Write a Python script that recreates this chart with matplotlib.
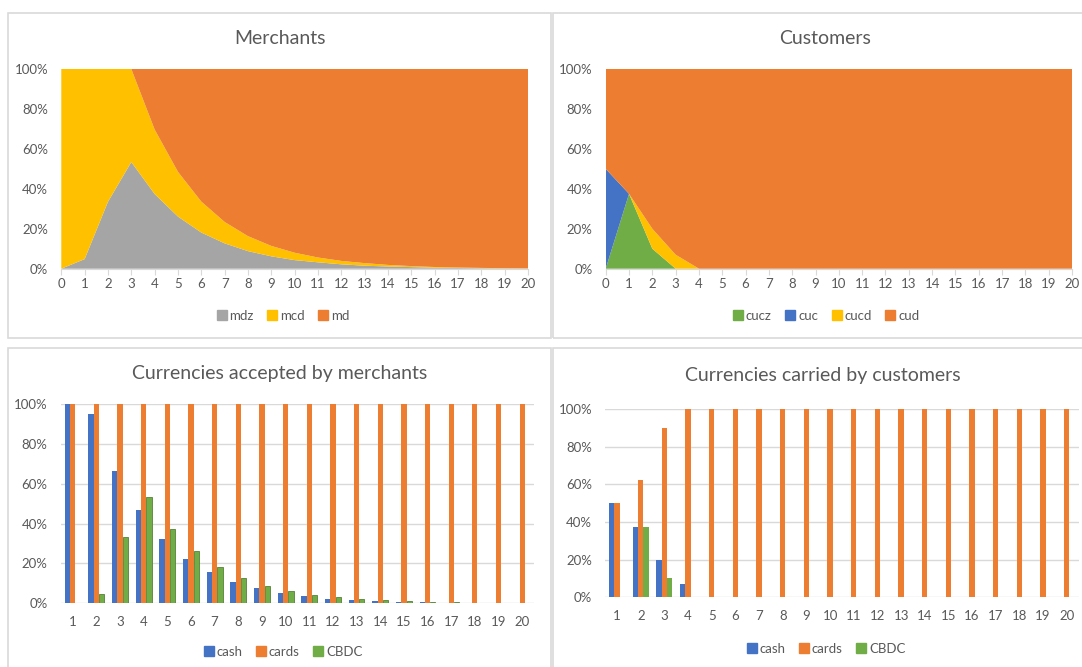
import matplotlib
matplotlib.use("Agg")
import matplotlib.pyplot as plt
from matplotlib.patches import Rectangle
from matplotlib.lines import Line2D
from matplotlib.ticker import FuncFormatter
import numpy as np

# ---- data -------------------------------------------------------------
periods = list(range(21))

# merchants by payment set (share, %)
mdz = [0, 4.8, 33.5, 53.4, 37.4, 26.1, 18.1, 12.7, 8.8, 6.2, 4.3,
       3.2, 2.2, 1.5, 1.1, 0.8, 0.5, 0.35, 0.25, 0.15, 0.1]
mcd = [100, 95.2, 66.5, 46.6, 32.3, 22.4, 15.5, 10.7, 7.5, 5.2, 3.7,
       2.4, 1.7, 1.3, 0.8, 0.5, 0.35, 0.25, 0.15, 0.1, 0.07]
md = [0, 0, 0, 0, 30.3, 51.5, 66.4, 76.6, 83.7, 88.6, 92.0,
      94.4, 96.1, 97.2, 98.1, 98.7, 99.15, 99.4, 99.6, 99.75, 99.83]

# customers by payment set (share, %)
cucz = [0, 37.5, 10, 0, 0, 0, 0, 0, 0, 0, 0, 0, 0, 0, 0, 0, 0, 0, 0, 0, 0]
cuc = [50, 0, 0, 0, 0, 0, 0, 0, 0, 0, 0, 0, 0, 0, 0, 0, 0, 0, 0, 0, 0]
cucd = [0, 0, 10, 7, 0, 0, 0, 0, 0, 0, 0, 0, 0, 0, 0, 0, 0, 0, 0, 0, 0]
cud = [50, 62.5, 80, 93, 100, 100, 100, 100, 100, 100, 100,
       100, 100, 100, 100, 100, 100, 100, 100, 100, 100]

# currencies accepted / carried (categories 1..20)
categories = list(range(1, 21))
merch_cash = [100, 95.2, 66.5, 46.6, 32.3, 22.4, 15.5, 10.7, 7.5, 5.2,
              3.7, 2.4, 1.7, 1.3, 0.8, 0.5, 0.35, 0.25, 0.15, 0.1]
merch_cards = [100] * 20
merch_cbdc = [0, 4.8, 33.5, 53.4, 37.4, 26.1, 18.1, 12.7, 8.8, 6.2,
              4.3, 3.2, 2.2, 1.5, 1.1, 0.8, 0.5, 0.35, 0.25, 0.15]

cust_cash = [50, 37.5, 20, 7, 0, 0, 0, 0, 0, 0, 0, 0, 0, 0, 0, 0, 0, 0, 0, 0]
cust_cards = [50, 62.5, 90, 100, 100, 100, 100, 100, 100, 100,
              100, 100, 100, 100, 100, 100, 100, 100, 100, 100]
cust_cbdc = [0, 37.5, 10, 0, 0, 0, 0, 0, 0, 0, 0, 0, 0, 0, 0, 0, 0, 0, 0, 0]

# ---- styling ----------------------------------------------------------
W, H = 1082, 667
plt.rcParams['font.family'] = ['Lato', 'DejaVu Sans']

TEXT = '#595959'
GRID = '#D9D9D9'
BLUE = '#4472C4'
ORANGE = '#ED7D31'
GRAY = '#A5A5A5'
YELLOW = '#FFC000'
GREEN = '#70AD47'
TICK_FS = 9.5
TITLE_FS = 14

fig = plt.figure(figsize=(W / 100, H / 100), dpi=100)


def px_axes(x0, y0, x1, y1):
    return fig.add_axes([x0 / W, 1 - y1 / H, (x1 - x0) / W, (y1 - y0) / H])


def fx(x):
    return x / W


def fy(y):
    return 1 - y / H


# chart frames
for (x0, y0, x1, y1) in [(8, 13, 551, 338), (553, 13, 1100, 338),
                         (8, 348, 551, 690), (553, 348, 1100, 690)]:
    fig.add_artist(Rectangle((fx(x0), fy(y1)), (x1 - x0) / W, (y1 - y0) / H,
                             transform=fig.transFigure, fill=False,
                             edgecolor=GRID, lw=1.2))

pct = FuncFormatter(lambda v, _: f"{v:.0f}%")


def style_area(ax):
    ax.set_xlim(0, 20)
    ax.set_ylim(0, 100)
    ax.set_xticks(periods)
    ax.set_yticks(range(0, 101, 20))
    ax.yaxis.set_major_formatter(pct)
    for s in ('top', 'right', 'left'):
        ax.spines[s].set_visible(False)
    ax.spines['bottom'].set_color(GRID)
    ax.tick_params(axis='x', length=4, color=GRID, labelcolor=TEXT,
                   labelsize=TICK_FS, pad=3)
    ax.tick_params(axis='y', length=0, labelcolor=TEXT,
                   labelsize=TICK_FS, pad=9.4)


def style_bars(ax, xpad):
    ax.set_xlim(0.5, 20.5)
    ax.set_ylim(0, 100)
    ax.set_xticks(categories)
    ax.set_yticks(range(0, 101, 20))
    ax.yaxis.set_major_formatter(pct)
    for s in ax.spines.values():
        s.set_visible(False)
    ax.grid(axis='y', color=GRID, lw=1)
    ax.set_axisbelow(True)
    ax.tick_params(axis='x', length=0, labelcolor=TEXT,
                   labelsize=TICK_FS, pad=xpad)
    ax.tick_params(axis='y', length=0, labelcolor=TEXT,
                   labelsize=TICK_FS, pad=9.4)


def legend(labels, colors, cx, cy):
    handles = [Line2D([], [], ls='none', marker='s', markersize=7,
                      markerfacecolor=c, markeredgecolor=c) for c in colors]
    fig.legend(handles, labels, loc='center', bbox_to_anchor=(fx(cx), fy(cy)),
               ncol=len(labels), frameon=False, fontsize=TICK_FS,
               labelcolor=TEXT, handlelength=0.8, handletextpad=0.2,
               columnspacing=1.0, borderpad=0)


# ---- Merchants --------------------------------------------------------
ax1 = px_axes(61.3, 69, 528, 268.7)
ax1.stackplot(periods, mdz, mcd, md, colors=[GRAY, YELLOW, ORANGE], lw=0)
style_area(ax1)
fig.text(fx(280), fy(38), "Merchants", ha='center', va='center',
         fontsize=TITLE_FS, color=TEXT)
legend(["mdz", "mcd", "md"], [GRAY, YELLOW, ORANGE], 283, 316)

# ---- Customers --------------------------------------------------------
ax2 = px_axes(605.7, 69, 1072, 268.7)
ax2.stackplot(periods, cucz, cuc, cucd, cud,
              colors=[GREEN, BLUE, YELLOW, ORANGE], lw=0)
style_area(ax2)
fig.text(fx(825), fy(38), "Customers", ha='center', va='center',
         fontsize=TITLE_FS, color=TEXT)
legend(["cucz", "cuc", "cucd", "cud"], [GREEN, BLUE, YELLOW, ORANGE], 826, 316)

# ---- Currencies accepted by merchants --------------------------------
bw = 0.225
x = np.array(categories)
ax3 = px_axes(60.7, 404, 534, 603.3)
ax3.bar(x - bw, merch_cash, bw, color=BLUE)
ax3.bar(x, merch_cards, bw, color=ORANGE)
ax3.bar(x + bw, merch_cbdc, bw, color=GREEN, edgecolor='#548235', lw=0.6)
style_bars(ax3, 9.3)
fig.text(fx(280), fy(374), "Currencies accepted by merchants", ha='center',
         va='center', fontsize=TITLE_FS, color=TEXT)
legend(["cash", "cards", "CBDC"], [BLUE, ORANGE, GREEN], 283, 652)

# ---- Currencies carried by customers ---------------------------------
ax4 = px_axes(605.3, 409, 1078.6, 597.3)
ax4.bar(x - bw, cust_cash, bw, color=BLUE)
ax4.bar(x, cust_cards, bw, color=ORANGE)
ax4.bar(x + bw, cust_cbdc, bw, color=GREEN)
style_bars(ax4, 9.5)
fig.text(fx(823), fy(376), "Currencies carried by customers", ha='center',
         va='center', fontsize=TITLE_FS, color=TEXT)
legend(["cash", "cards", "CBDC"], [BLUE, ORANGE, GREEN], 826, 649)

fig.savefig("out.png", dpi=100, facecolor='white')
